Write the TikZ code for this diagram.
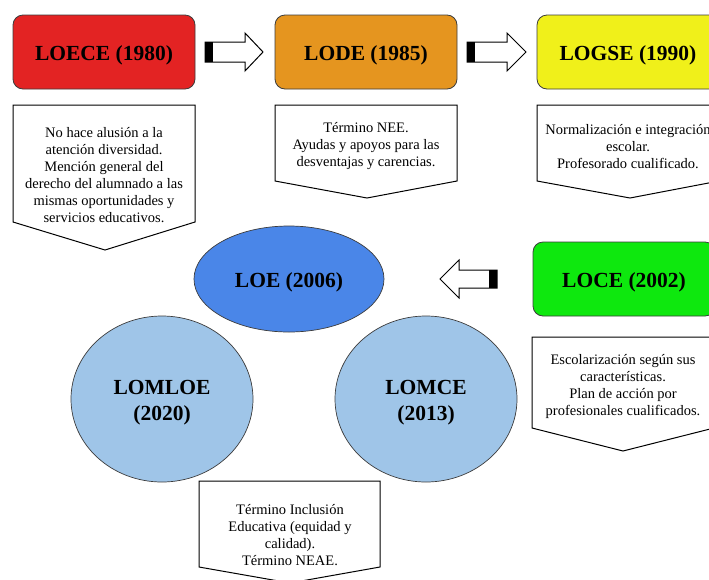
\documentclass[tikz,border=0pt]{standalone}
\usepackage{fontspec}
\setmainfont{Liberation Serif}
\usetikzlibrary{shapes.geometric}
\definecolor{cred}{RGB}{227,35,35}
\definecolor{corange}{RGB}{229,149,31}
\definecolor{cyellow}{RGB}{240,240,26}
\definecolor{cgreen}{RGB}{14,232,14}
\definecolor{cblue}{RGB}{74,134,232}
\definecolor{clight}{RGB}{159,197,232}
\definecolor{cedge}{RGB}{60,60,60}
\begin{document}
\begin{tikzpicture}[x=1pt,y=-1pt,
  law/.style={draw=cedge, line width=0.8pt, rounded corners=10pt, minimum width=182pt, minimum height=74pt, inner sep=0pt, text height=19pt, text depth=2.5pt, font=\fontsize{21.5}{26}\selectfont\bfseries},
  oval/.style={ellipse, draw=cedge, line width=0.7pt, inner sep=0pt},
  ovaltext/.style={align=center, inner sep=0pt, font=\fontsize{21.5}{26}\selectfont\bfseries},
  note/.style={align=center, inner sep=0pt, font=\fontsize{14.5}{17}\selectfont},
  pent/.style={draw=black, line width=1pt, fill=white, line join=miter},
  blockarrow/.style={draw=black, line width=1pt, fill=white, line join=miter},
  tail/.style={fill=black}
]
\useasboundingbox (0,0) rectangle (709,579);
\clip (0,0) rectangle (709,579);

% title boxes
\node[law, fill=cred] (loece) at (104,52) {LOECE (1980)};
\node[law, fill=corange] (lode) at (366,52) {LODE (1985)};
\node[law, fill=cyellow] (logse) at (628,52) {LOGSE (1990)};
\node[law, fill=cgreen] (loce) at (624,279) {LOCE (2002)};

% ellipses
\node[oval, fill=cblue, minimum width=190pt, minimum height=106pt] (loe) at (289,279) {};
\node[ovaltext] (loet) at (289,282) {LOE (2006)};
\node[oval, fill=clight, minimum width=182pt, minimum height=166pt] (lomloe) at (162,399) {};
\node[ovaltext] (lomloet) at (162,403) {LOMLOE\\(2020)};
\node[oval, fill=clight, minimum width=182pt, minimum height=166pt] (lomce) at (426,399) {};
\node[ovaltext] (lomcet) at (426,403) {LOMCE\\(2013)};

% block arrows
\draw[blockarrow] (205,42) -- (245,42) -- (245,33) -- (263,52) -- (245,71) -- (245,62) -- (205,62) -- cycle;
\fill[tail] (205,42) rectangle (213,62);
\draw[blockarrow] (467,42) -- (507,42) -- (507,33) -- (526,52) -- (507,71) -- (507,62) -- (467,62) -- cycle;
\fill[tail] (467,42) rectangle (475,62);
\draw[blockarrow] (497,270) -- (459,270) -- (459,260) -- (440,279) -- (459,298) -- (459,288) -- (497,288) -- cycle;
\fill[tail] (489,270) rectangle (497,288);

% pentagon note boxes
\draw[pent] (13,105) -- (195,105) -- (195,222) -- (105,250) -- (13,222) -- cycle;
\node[note] (n1) at (104,175) {No hace alusión a la\\atención diversidad.\\Mención general del\\derecho del alumnado a las\\mismas oportunidades y\\servicios educativos.};

\draw[pent] (275,105) -- (457,105) -- (457,181) -- (367,198) -- (275,181) -- cycle;
\node[note] (n2) at (366,146.5) {Término NEE.\\Ayudas y apoyos para las\\desventajas y carencias.};

\draw[pent] (537,105) -- (719,105) -- (719,181) -- (630,198) -- (537,181) -- cycle;
\node[note] (n3) at (628,146.5) {Normalización e integración\\escolar.\\Profesorado cualificado.};

\draw[pent] (532,337) -- (714,337) -- (714,428) -- (623,451) -- (532,428) -- cycle;
\node[note] (n4) at (623,386.5) {Escolarización según sus\\características.\\Plan de acción por\\profesionales cualificados.};

\draw[pent] (199,481) -- (380,481) -- (380,567) -- (290,583) -- (199,567) -- cycle;
\node[note] (n5) at (290,535) {Término Inclusión\\Educativa (equidad y\\calidad).\\Término NEAE.};
\end{tikzpicture}
\end{document}
